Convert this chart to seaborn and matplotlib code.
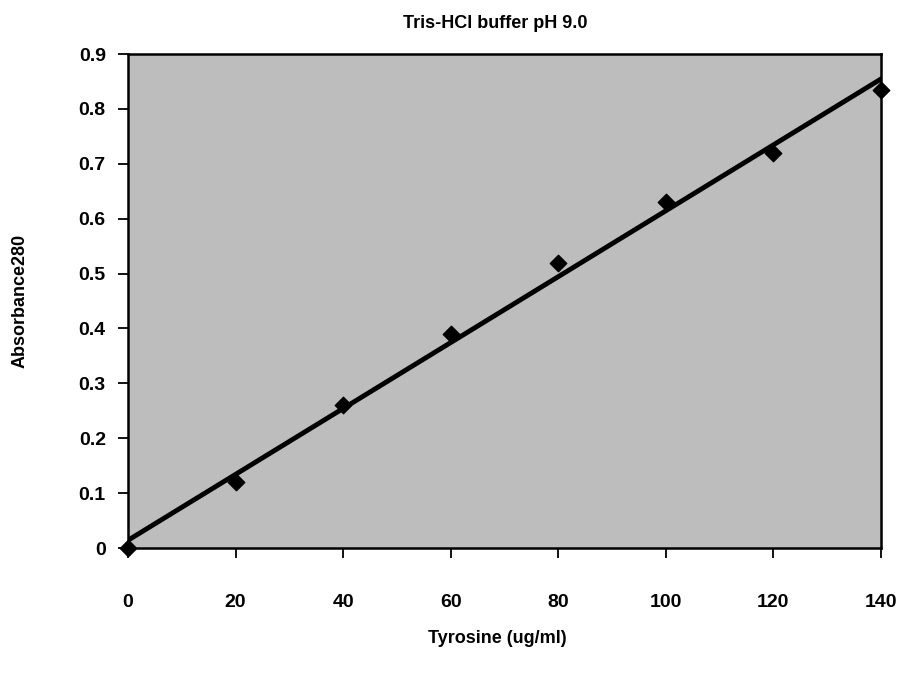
"""
Tyrosine standard curve (Tris-HCl buffer pH 9.0)
"""
import numpy as np
import pandas as pd
import matplotlib
matplotlib.use("Agg")
import matplotlib.pyplot as plt
import seaborn as sns

# --- data ---
tyrosine = [0, 20, 40, 60, 80, 100, 120, 140]
absorbance = [0.0, 0.12, 0.26, 0.39, 0.52, 0.63, 0.72, 0.835]
x_ticks = [0, 20, 40, 60, 80, 100, 120, 140]
y_ticks = [0, 0.1, 0.2, 0.3, 0.4, 0.5, 0.6, 0.7, 0.8, 0.9]
y_tick_labels = ["0", "0.1", "0.2", "0.3", "0.4", "0.5", "0.6", "0.7", "0.8", "0.9"]

TITLE = "Tris-HCl buffer pH 9.0"
X_LABEL = "Tyrosine (ug/ml)"
Y_LABEL = "Absorbance280"


def main():
    df = pd.DataFrame({"Tyrosine": tyrosine, "Absorbance": absorbance})

    sns.set_style("ticks")
    plt.rcParams["font.family"] = ["Liberation Sans", "DejaVu Sans"]
    plt.rcParams["text.color"] = "black"
    plt.rcParams["axes.labelcolor"] = "black"

    fig = plt.figure(figsize=(9.06, 6.77), dpi=100)
    ax = fig.add_axes([0.1413, 0.1905, 0.8311, 0.7297])
    ax.set_facecolor("#bdbdbd")

    # scatter + linear trendline
    sns.regplot(data=df, x="Tyrosine", y="Absorbance", ci=None, truncate=True,
                marker="D", ax=ax,
                scatter_kws=dict(color="black", s=70, alpha=1, edgecolors="black",
                                 zorder=4, clip_on=False),
                line_kws=dict(color="black", lw=3.5, zorder=3))

    ax.set_xlim(0, 140)
    ax.set_ylim(0, 0.9)
    ax.set_xticks(x_ticks)
    ax.set_xticklabels([str(v) for v in x_ticks], fontsize=14, fontweight="bold")
    ax.set_yticks(y_ticks)
    ax.set_yticklabels(y_tick_labels, fontsize=14, fontweight="bold")
    ax.tick_params(axis="x", direction="out", length=7, width=1.3, pad=26, colors="black")
    ax.tick_params(axis="y", direction="out", length=7, width=1.3, pad=9, colors="black")

    for side in ["left", "bottom", "top", "right"]:
        ax.spines[side].set_visible(True)
        ax.spines[side].set_color("black")
        ax.spines[side].set_linewidth(1.8)

    ax.set_xlabel(X_LABEL, fontsize=13, fontweight="bold", color="black")
    ax.xaxis.set_label_coords(0.49, -0.165)
    ax.set_ylabel(Y_LABEL, fontsize=13, fontweight="bold", color="black")
    ax.yaxis.set_label_coords(-0.132, 0.5)

    fig.text(0.547, 0.966, TITLE, ha="center", va="center",
             fontsize=13, fontweight="bold", color="black")

    fig.savefig("out.png", dpi=100)
    plt.close(fig)


if __name__ == "__main__":
    main()
